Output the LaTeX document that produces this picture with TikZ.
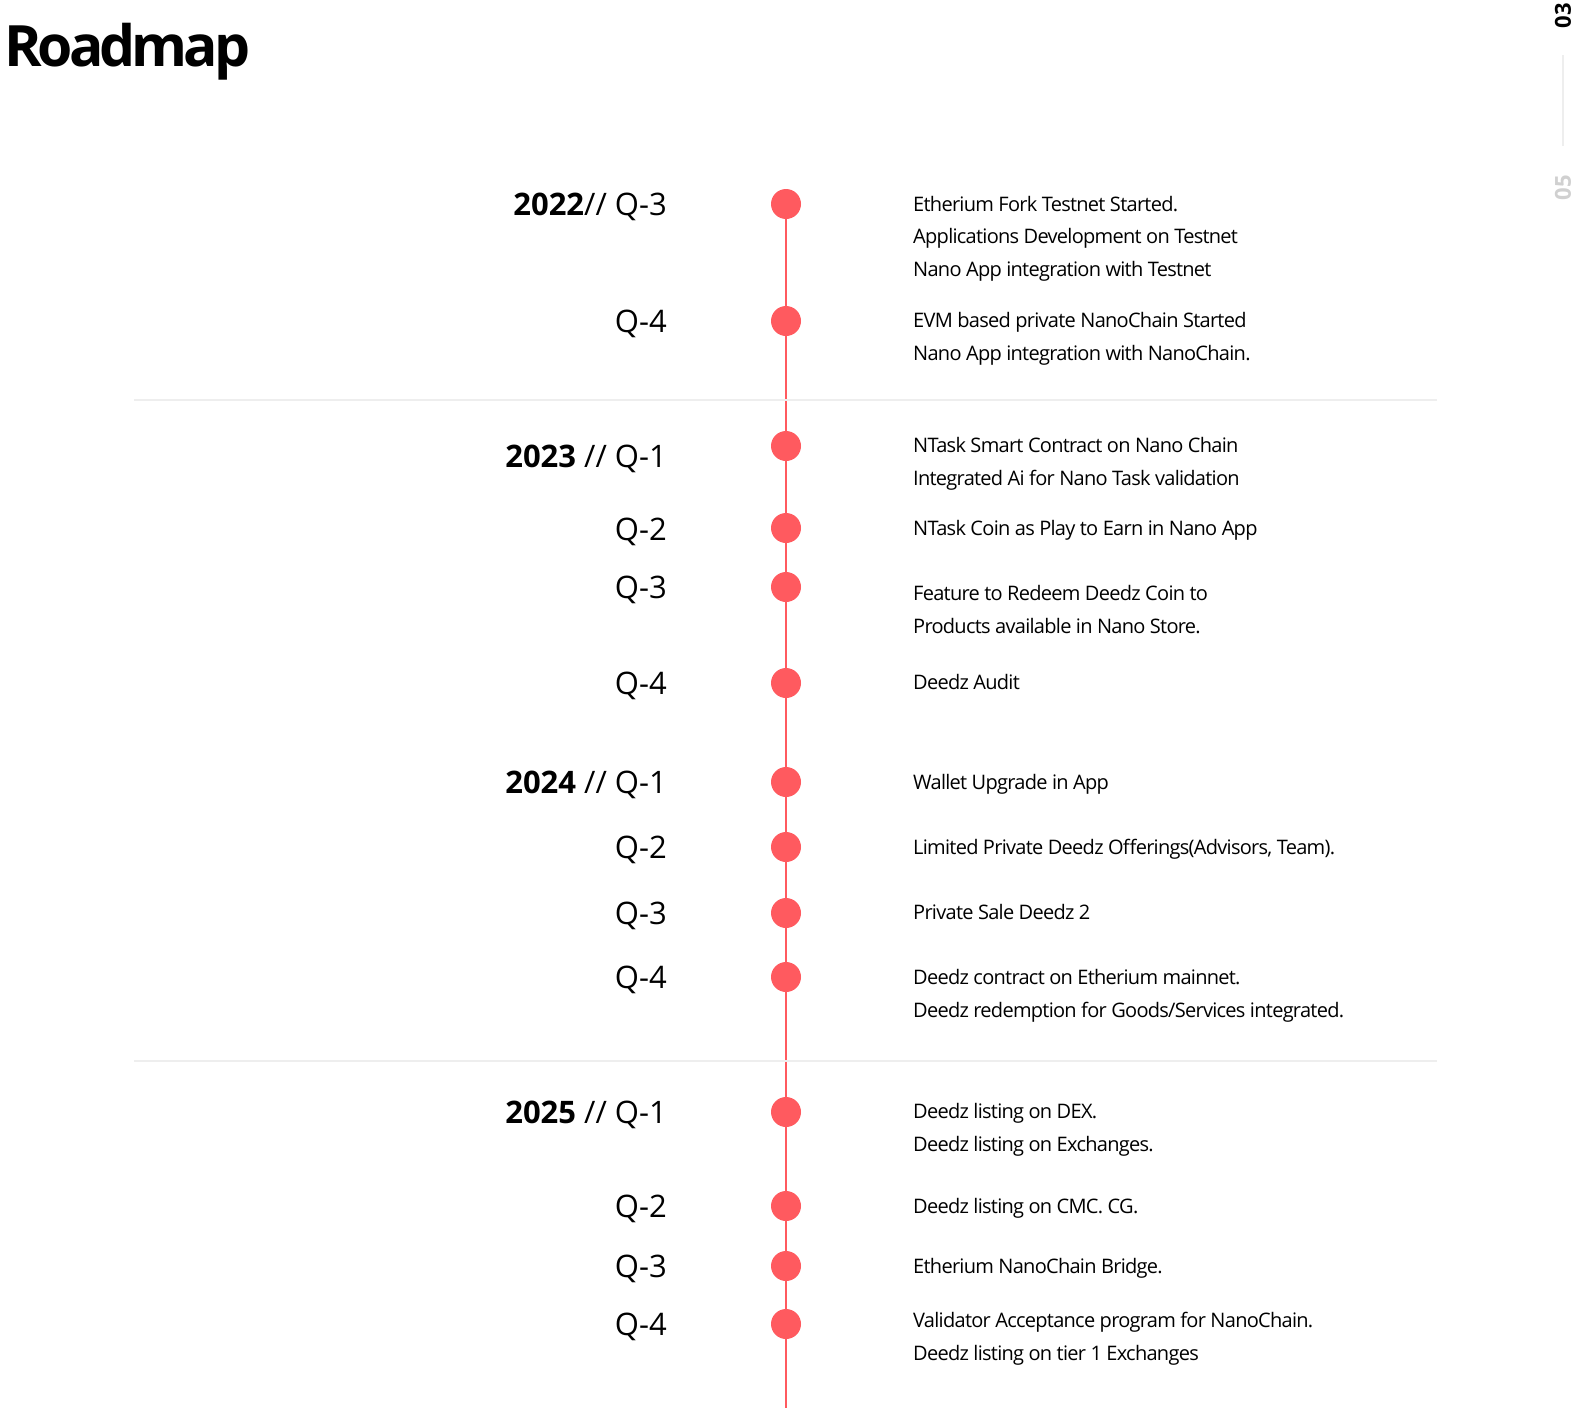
\documentclass[tikz,border=0pt]{standalone}
\usepackage{fontspec}
\setmainfont{Open Sans}
\usetikzlibrary{positioning, backgrounds}

\definecolor{roadred}{HTML}{FF5A5F}
\definecolor{rulegray}{HTML}{EEEEEE}
\definecolor{pagegray}{HTML}{D0D0D0}

\begin{document}
\begin{tikzpicture}[
            x=1pt, y=-1pt,
            dot/.style={circle, fill=roadred, inner sep=0pt, minimum size=30pt},
            quarter/.style={anchor=base east, inner sep=0pt, font=\fontsize{31}{31}\selectfont},
            % base of a multi-line item is its last line
            item/.style={anchor=base west, inner sep=0pt, align=left, font=\fontsize{20}{32.5}\selectfont\addfontfeatures{LetterSpace=-3.6}},
            timeline/.style={draw=roadred, line width=2.8pt},
            divider/.style={draw=rulegray, line width=2pt}
        ]
        \useasboundingbox (0,0) rectangle (1576,1408);
        % Title and page marker
        \node[anchor=base west, inner sep=0pt, font=\fontsize{57}{57}\selectfont\bfseries\addfontfeatures{LetterSpace=-7}] (title) at (4,66) {Roadmap};
        \node[rotate=90, inner sep=0pt, font=\fontsize{22}{22}\selectfont\bfseries] (pagecur) at (1563,16) {03};
        \node[rotate=90, inner sep=0pt, font=\fontsize{22}{22}\selectfont\bfseries, text=pagegray] (pagemax) at (1563,188) {05};
        \draw[draw=rulegray, line width=1.5pt] (1563,55) -- (1563,146);
        % Dividers between the years
        \draw[divider] (134,400) -- (1437,400);
        \draw[divider] (134,1061) -- (1437,1061);
        % Dots on the timeline
        \foreach \n/\y in {1/204, 2/321, 3/446, 4/528, 5/587, 6/683, 7/782,
                           8/847, 9/913, 10/977, 11/1112, 12/1206, 13/1266, 14/1324}
            \node[dot] (d\n) at (786,\y) {};
        \coordinate (tlend) at (786,1408);
        \begin{scope}[on background layer]
            \draw[timeline] (d1.center) -- (tlend);
        \end{scope}
        % 2022
        \node[quarter] (l1) at (667,215) {\textbf{2022}// Q-3};
        \node[quarter] (l2) at (667,332) {Q-4};
        \node[item] (t1) at (913,276) {Etherium Fork Testnet Started.\\Applications Development on Testnet\\Nano App integration with Testnet};
        \node[item] (t2) at (913,360) {EVM based private NanoChain Started\\Nano App integration with NanoChain.};
        % 2023
        \node[quarter] (l3) at (667,467) {\textbf{2023} // Q-1};
        \node[quarter] (l4) at (667,540) {Q-2};
        \node[quarter] (l5) at (667,598) {Q-3};
        \node[quarter] (l6) at (667,694) {Q-4};
        \node[item] (t3) at (913,485) {NTask Smart Contract on Nano Chain\\Integrated Ai for Nano Task validation};
        \node[item] (t4) at (913,535) {NTask Coin as Play to Earn in Nano App};
        \node[item] (t5) at (913,633) {Feature to Redeem Deedz Coin to\\Products available in Nano Store.};
        \node[item] (t6) at (913,689) {Deedz Audit};
        % 2024
        \node[quarter] (l7) at (667,793) {\textbf{2024} // Q-1};
        \node[quarter] (l8) at (667,858) {Q-2};
        \node[quarter] (l9) at (667,924) {Q-3};
        \node[quarter] (l10) at (667,988) {Q-4};
        \node[item] (t7) at (913,789) {Wallet Upgrade in App};
        \node[item] (t8) at (913,854) {Limited Private Deedz Offerings(Advisors, Team).};
        \node[item] (t9) at (913,919) {Private Sale Deedz 2};
        \node[item] (t10) at (913,1017) {Deedz contract on Etherium mainnet.\\Deedz redemption for Goods/Services integrated.};
        % 2025
        \node[quarter] (l11) at (667,1123) {\textbf{2025} // Q-1};
        \node[quarter] (l12) at (667,1217) {Q-2};
        \node[quarter] (l13) at (667,1277) {Q-3};
        \node[quarter] (l14) at (667,1335) {Q-4};
        \node[item] (t11) at (913,1151) {Deedz listing on DEX.\\Deedz listing on Exchanges.};
        \node[item] (t12) at (913,1213) {Deedz listing on CMC. CG.};
        \node[item] (t13) at (913,1273) {Etherium NanoChain Bridge.};
        \node[item] (t14) at (913,1360) {Validator Acceptance program for NanoChain.\\Deedz listing on tier 1 Exchanges};
    \end{tikzpicture}
\end{document}
